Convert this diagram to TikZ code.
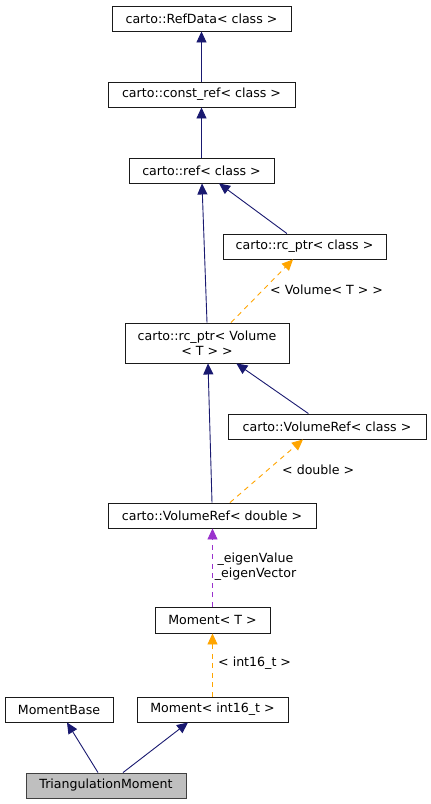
\documentclass[tikz,border=0pt]{standalone}
\usepackage{fontspec}
\setmainfont{DejaVu Sans}
\usetikzlibrary{arrows.meta,calc}
\definecolor{navy}{HTML}{191970}
\definecolor{orng}{HTML}{FFA500}
\definecolor{purp}{HTML}{9A32CD}
\definecolor{boxline}{HTML}{1A1A1A}
\definecolor{trifill}{HTML}{BFBFBF}
\tikzset{
  cls/.style={draw=boxline, line width=0.9pt, fill=white, minimum height=25pt, inner sep=0pt, font=\fontsize{12.6}{15}\selectfont, text=black, align=center},
  inh/.style={draw=navy, line width=0.9pt, -{Triangle[length=11pt,width=10pt]}, navy},
  tmpl/.style={draw=orng, line width=0.9pt, dash pattern=on 5pt off 4.5pt, -{Triangle[length=11pt,width=10pt]}, orng},
  usage/.style={draw=purp, line width=0.9pt, dash pattern=on 5pt off 4.5pt, -{Triangle[length=11pt,width=10pt]}, purp},
  elabel/.style={font=\fontsize{12.6}{15}\selectfont, text=black, inner sep=0pt, align=center}
}
\begin{document}
\begin{tikzpicture}[x=1pt,y=-1pt]
\useasboundingbox (0,0) rectangle (431,804);
\fill[white] (0,0) rectangle (431,804);
% nodes
\node[cls, minimum width=179pt] (refdata) at (201.5,18.5) {carto::RefData< class >};
\node[cls, minimum width=187pt] (constref) at (201.5,94.5) {carto::const\_ref< class >};
\node[cls, minimum width=145pt] (ref) at (201.5,170.5) {carto::ref< class >};
\node[cls, minimum width=163pt] (rcclass) at (304.5,246.5) {carto::rc\_ptr< class >};
\node[cls, minimum width=164pt, minimum height=40pt] (rcvol) at (207,343) {carto::rc\_ptr< Volume\\< T > >};
\node[cls, minimum width=198pt] (vrclass) at (327,426.5) {carto::VolumeRef< class >};
\node[cls, minimum width=208pt] (vrdouble) at (212,515.5) {carto::VolumeRef< double >};
\node[cls, minimum width=115pt, minimum height=26pt] (momentT) at (212.5,620) {Moment< T >};
\node[cls, minimum width=108pt] (momentbase) at (59,709.5) {MomentBase};
\node[cls, minimum width=151pt] (momentint) at (212.5,709.5) {Moment< int16\_t >};
\node[cls, minimum width=160pt, fill=trifill, draw={rgb,255:red,64;green,64;blue,64}] (tri) at (106,785.5) {TriangulationMoment};
% edges
\draw[inh] (constref.north) -- (refdata.south);
\draw[inh] (ref.north) -- (constref.south);
\draw[inh] (rcvol.north) -- ($(ref.south)+(0.5,0)$);
\draw[inh] (rcclass) -- (ref);
\draw[tmpl] ($(rcvol.north)+(24,0)$) -- ($(rcclass.south)+(-11.5,0)$);
\node[elabel, anchor=west] (lvol) at (270,290) {< Volume< T > >};
\draw[inh] (vrdouble.north) -- ($(rcvol.south)+(1,0)$);
\draw[inh] (vrclass) -- (rcvol);
\draw[tmpl] ($(vrdouble.north)+(18,0)$) -- ($(vrclass.south)+(-24,0)$);
\node[elabel, anchor=west] (ldouble) at (282,470) {< double >};
\draw[usage] (momentT.north) -- ($(vrdouble.south)+(0.5,0)$);
\node[elabel] (leigen) at (255.5,566.5) {\_eigenValue\\\_eigenVector};
\draw[tmpl] (momentint.north) -- (momentT.south);
\node[elabel, anchor=west] (lint) at (218,663) {< int16\_t >};
\draw[inh] (tri) -- (momentbase);
\draw[inh] ($(tri.north)+(17,0)$) -- ($(momentint.south)+(-24.5,0)$);
\end{tikzpicture}
\end{document}
